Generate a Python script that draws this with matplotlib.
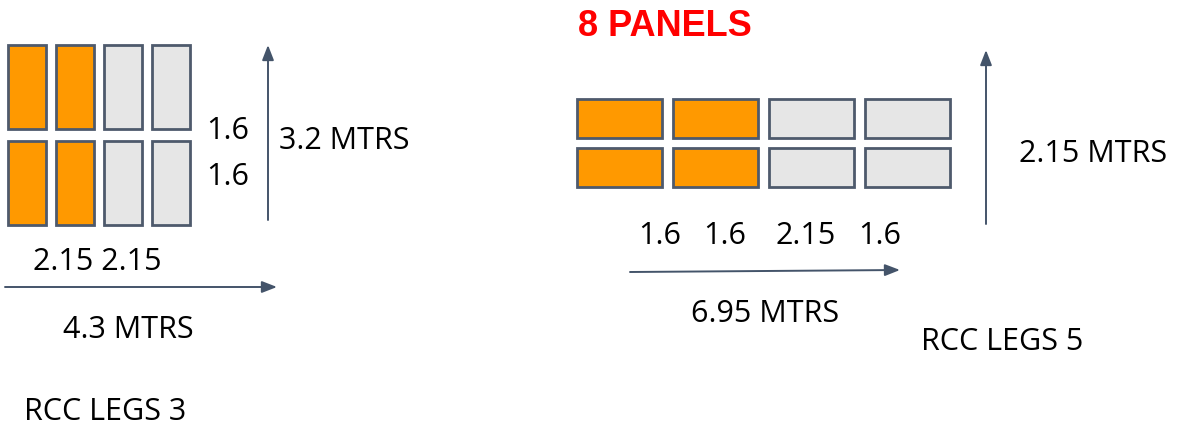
import matplotlib.pyplot as plt
from matplotlib.patches import Rectangle

# panel layouts: fill flags per column (True = orange), two rows each
left_cols = [True, True, False, False]
right_cols = [True, True, False, False]

left_row_labels = ["1.6", "1.6"]
left_col_labels = "2.15 2.15"
left_height_label = "3.2 MTRS"
left_width_label = "4.3 MTRS"
left_name = "RCC LEGS 3"

right_col_labels = ["1.6", "1.6", "2.15", "1.6"]
right_height_label = "2.15 MTRS"
right_width_label = "6.95 MTRS"
right_name = "RCC LEGS 5"
title = "8 PANELS"

ORANGE = "#FF9900"
GREY = "#E6E6E6"
EDGE = "#4E5A6C"
ARROW = "#44546A"
FONT = "Open Sans"
FS = 22


def draw_grid(ax, x0, y0, w, h, gx, gy, cols):
    for r in range(2):
        for c, filled in enumerate(cols):
            ax.add_patch(Rectangle((x0 + c * (w + gx), y0 + r * (h + gy)), w, h,
                                   facecolor=ORANGE if filled else GREY,
                                   edgecolor=EDGE, linewidth=2))


def arrow(ax, x1, y1, x2, y2):
    ax.annotate("", xy=(x2, y2), xytext=(x1, y1),
                arrowprops=dict(arrowstyle="-|>,head_length=0.9,head_width=0.35",
                                color=ARROW, lw=1.4, shrinkA=0, shrinkB=0))


def label(ax, x, y, s, ha="center"):
    ax.text(x, y, s, fontsize=FS, family=FONT, ha=ha, va="center")


fig = plt.figure(figsize=(11.92, 4.26), dpi=100)
ax = fig.add_axes([0, 0, 1, 1])
ax.set_xlim(0, 1192)
ax.set_ylim(426, 0)
ax.axis("off")

# left layout
draw_grid(ax, 8, 45, 38, 84, 10, 12, left_cols)
arrow(ax, 268, 220, 268, 45)
arrow(ax, 5, 287, 277, 287)
label(ax, 228, 131, left_row_labels[0])
label(ax, 228, 177, left_row_labels[1])
label(ax, 279, 141, left_height_label, ha="left")
label(ax, 97, 262, left_col_labels)
label(ax, 128, 330, left_width_label)
label(ax, 24, 412, left_name, ha="left")

# right layout
ax.text(578, 26, title, fontsize=26, family="Liberation Sans", weight="bold",
        color="#FF0000", ha="left", va="center")
draw_grid(ax, 577, 99, 85, 39, 11, 10, right_cols)
arrow(ax, 986, 224, 986, 50)
arrow(ax, 630, 272, 900, 270)
for lbl, x in zip(right_col_labels, [660, 725, 806, 880]):
    label(ax, x, 236, lbl)
label(ax, 1019, 154, right_height_label, ha="left")
label(ax, 765, 314, right_width_label)
label(ax, 921, 342, right_name, ha="left")

fig.savefig("out.png", dpi=100, facecolor="white")
